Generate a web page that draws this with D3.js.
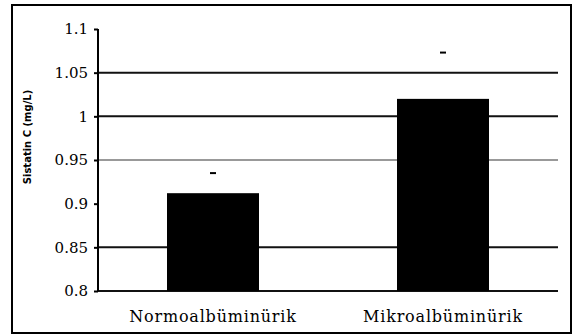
<!DOCTYPE html>
<html>
<head>
<meta charset="utf-8">
<script src="https://cdn.jsdelivr.net/npm/d3@7"></script>
<style>
  body { margin: 0; background: #fff; }
  svg { display: block; }
</style>
</head>
<body>
<div id="chart"></div>
<script>
    // data
    var categories = ["Normoalbüminürik", "Mikroalbüminürik"];
    var values = [0.912, 1.02];
    var errTops = [0.935, 1.073];
    var yTicks = [0.8, 0.85, 0.9, 0.95, 1, 1.05, 1.1];
    var gridLevels = [0.8, 0.85, 0.95, 1, 1.05];  // 0.9 has no line in the original
    var yLabel = "Sistatin C (mg/L)";

    var W = 573, H = 336;
    var margin = { top: 29, right: 15, bottom: 45, left: 98 },
        w = W - margin.left - margin.right,
        h = H - margin.top - margin.bottom;

    var svg = d3.select("#chart")
                .append("svg")
                .attr("width", W)
                .attr("height", H);

    // outer frame
    svg.append("rect")
        .attr("x", 12).attr("y", 5)
        .attr("width", 559).attr("height", 328)
        .attr("fill", "none")
        .attr("stroke", "#000")
        .attr("stroke-width", 2);

    var g = svg.append("g")
               .attr("transform", "translate(" + margin.left + "," + margin.top + ")");

    var x = d3.scaleBand().domain(categories).range([0, w])
              .paddingInner(0.6).paddingOuter(0.3);
    var y = d3.scaleLinear().domain([0.8, 1.1]).range([h, 0]);

    // grid lines
    g.selectAll("line.grid")
        .data(gridLevels)
        .enter()
        .append("line")
        .attr("class", "grid")
        .attr("x1", 0).attr("x2", w)
        .attr("y1", function(d) { return y(d); })
        .attr("y2", function(d) { return y(d); })
        .attr("stroke", function(d) { return d === 0.95 ? "#777" : "#111"; })
        .attr("stroke-width", function(d) { return d === 0.95 ? 1.5 : 2; });

    // bars
    g.selectAll("rect.bar")
        .data(values)
        .enter()
        .append("rect")
        .attr("class", "bar")
        .attr("x", function(d, i) { return x(categories[i]); })
        .attr("y", function(d) { return y(d); })
        .attr("width", x.bandwidth())
        .attr("height", function(d) { return h - y(d); })
        .attr("fill", "#000");

    // little caps above the bars
    g.selectAll("line.cap")
        .data(errTops)
        .enter()
        .append("line")
        .attr("class", "cap")
        .attr("x1", function(d, i) { return x(categories[i]) + x.bandwidth() / 2 - 3; })
        .attr("x2", function(d, i) { return x(categories[i]) + x.bandwidth() / 2 + 3; })
        .attr("y1", function(d) { return y(d); })
        .attr("y2", function(d) { return y(d); })
        .attr("stroke", "#000")
        .attr("stroke-width", 2);

    // y axis
    var yAxis = d3.axisLeft(y)
                  .tickValues(yTicks)
                  .tickSize(4)
                  .tickPadding(6)
                  .tickFormat(function(d) { return String(+d.toFixed(2)); });

    var ya = g.append("g").call(yAxis);
    ya.select(".domain").attr("stroke-width", 2).attr("d", "M0," + h + "V0");
    ya.selectAll(".tick line").attr("stroke-width", 2);
    ya.selectAll("text")
        .style("font-family", "DejaVu Serif")
        .style("font-size", "15px")
        .attr("fill", "#000");

    // category labels
    g.selectAll("text.cat")
        .data(categories)
        .enter()
        .append("text")
        .attr("class", "cat")
        .attr("x", function(d) { return x(d) + x.bandwidth() / 2; })
        .attr("y", h + 31)
        .text(function(d) { return d; })
        .style("text-anchor", "middle")
        .style("font-family", "DejaVu Serif")
        .style("font-size", "16px")
        .style("letter-spacing", "0.8px");

    // y label
    svg.append("text")
        .attr("transform", "translate(31,137) rotate(-90)")
        .text(yLabel)
        .style("text-anchor", "middle")
        .style("font-family", "DejaVu Sans")
        .style("font-weight", "bold")
        .style("font-size", "10px");
</script>
</body>
</html>
